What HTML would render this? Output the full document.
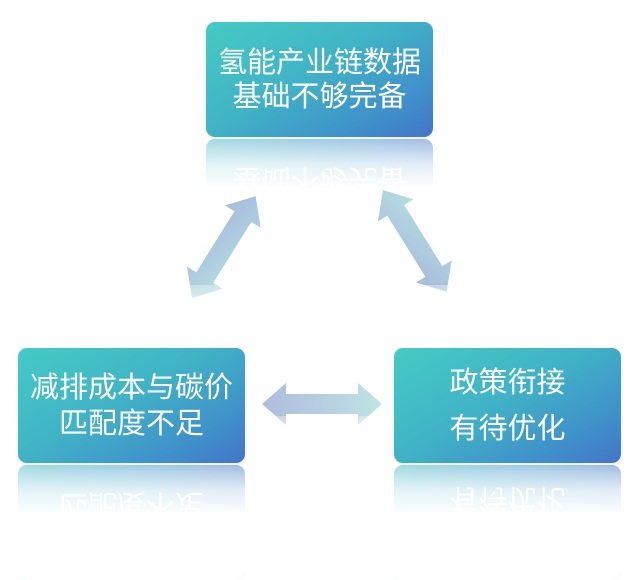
<!DOCTYPE html>
<html><head><meta charset="utf-8"><style>
body{margin:0;width:639px;height:533px;background:#fff;position:relative;overflow:hidden;font-family:"Liberation Sans","Noto Sans CJK SC",sans-serif}
.b{position:absolute;width:227px;height:115px;border-radius:9px;background:linear-gradient(150deg,#45cbc4 0%,#40b3c6 45%,#3f8fca 80%,#4474c8 100%);color:#fff;font-size:29px;text-align:center;box-sizing:border-box;display:flex;flex-direction:column;justify-content:center;box-shadow:0 1px 3px rgba(0,0,0,.1)}
.r{position:absolute;width:227px;height:115px;border-radius:9px;overflow:hidden}
.r .in{position:absolute;inset:0;transform:scaleY(-1);background:linear-gradient(150deg,#45cbc4 0%,#40b3c6 45%,#3f8fca 80%,#4474c8 100%);color:#fff;font-size:29px;text-align:center;display:flex;flex-direction:column;justify-content:center;opacity:.6}
.r::after{content:"";position:absolute;inset:0;background:linear-gradient(to bottom,rgba(255,255,255,.2) 0px,rgba(255,255,255,.75) 25px,#fff 50px)}
</style></head><body>
<div class="b" style="left:206px;top:22px;line-height:34px">氢能产业链数据<br>基础不够完备</div>
<div class="r" style="left:206px;top:139px"><div class="in" style="line-height:34px">氢能产业链数据<br>基础不够完备</div></div>

<div class="b" style="left:18px;top:348px;line-height:36px">减排成本与碳价<br>匹配度不足</div>
<div class="r" style="left:18px;top:465px"><div class="in" style="line-height:36px">减排成本与碳价<br>匹配度不足</div></div>

<div class="b" style="left:394px;top:348px;line-height:46px">政策衔接<br>有待优化</div>
<div class="r" style="left:394px;top:465px"><div class="in" style="line-height:46px">政策衔接<br>有待优化</div></div>

<svg width="639" height="533" style="position:absolute;left:0;top:0">
<defs>
<linearGradient id="g1" x1="0" y1="1" x2="1" y2="0"><stop offset="0" stop-color="#b4e0e2"/><stop offset="1" stop-color="#a6b8dc"/></linearGradient>
<linearGradient id="g2" x1="0" y1="0" x2="1" y2="1"><stop offset="0" stop-color="#b6e0e2"/><stop offset="1" stop-color="#a6b8dc"/></linearGradient>
<linearGradient id="g3" x1="0" y1="0" x2="1" y2="0"><stop offset="0" stop-color="#aebcdd"/><stop offset="1" stop-color="#bfe3e3"/></linearGradient>
<linearGradient id="fade" x1="0" y1="0" x2="0" y2="1"><stop offset="0" stop-color="#fff" stop-opacity="0.3"/><stop offset="1" stop-color="#fff" stop-opacity="1"/></linearGradient>
<polygon id="arr" points="0,0 24,-21 24,-10 96,-10 96,-21 120,0 96,21 96,10 24,10 24,21"/>
</defs>
<use href="#arr" fill="url(#g1)" transform="translate(192,298) rotate(-58)"/>
<use href="#arr" fill="url(#g2)" transform="translate(383,190) rotate(58)"/>
<use href="#arr" fill="url(#g3)" transform="translate(262,404)"/>
<rect x="255" y="416" width="135" height="30" fill="url(#fade)"/>
<rect x="175" y="285" width="50" height="45" fill="url(#fade)"/>
<rect x="415" y="285" width="50" height="45" fill="url(#fade)"/>
</svg>
</body></html>
